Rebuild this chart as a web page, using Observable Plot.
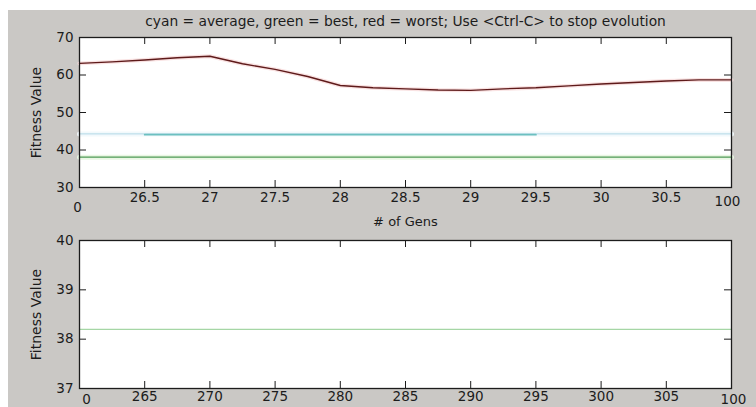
<!DOCTYPE html>
<html><head><meta charset="utf-8">
<script src="https://cdn.jsdelivr.net/npm/d3@7"></script>
<script src="https://cdn.jsdelivr.net/npm/@observablehq/plot@0.6"></script>
<style>
html,body{margin:0;padding:0;background:#fff;width:756px;height:407px;overflow:hidden;}
#bg{position:absolute;left:8px;top:10px;width:748px;height:397px;background:#cac8c5;}
#top{position:absolute;left:0;top:0;}
#bot{position:absolute;left:0;top:230px;}
</style></head><body>
<div id="bg"></div><div id="top"></div><div id="bot"></div>
<script>
// ---- data ----
const titleText = "cyan = average, green = best, red = worst; Use <Ctrl-C> to stop evolution";
const xLabelText = "# of Gens";
const yLabelText = "Fitness Value";

const topXDomain = [26, 31];
const topYDomain = [30, 70];
const topXTicks = [26.5, 27, 27.5, 28, 28.5, 29, 29.5, 30, 30.5];
const topYTicks = [30, 40, 50, 60, 70];
const topEdgeLabels = ["0", "100"];

const worstX = [26, 26.25, 26.5, 26.75, 27, 27.25, 27.5, 27.75, 28, 28.25, 28.5, 28.75, 29, 29.25, 29.5, 29.75, 30, 30.25, 30.5, 30.75, 31];
const worstY = [63.1, 63.5, 64.0, 64.6, 65.0, 63.0, 61.5, 59.6, 57.2, 56.6, 56.3, 56.0, 55.9, 56.3, 56.6, 57.1, 57.6, 58.0, 58.4, 58.7, 58.7];

const avgX = [26, 31];
const avgY = [44.3, 44.3];
const avgHiX = [26.5, 29.5];
const avgHiY = [44.1, 44.1];

const bestX = [26, 31];
const bestY = [38.1, 38.1];

const botXDomain = [260, 310];
const botYDomain = [37, 40];
const botXTicks = [265, 270, 275, 280, 285, 290, 295, 300, 305];
const botYTicks = [37, 38, 39, 40];
const botEdgeLabels = ["0", "100"];
const botBestX = [260, 310];
const botBestY = [38.2, 38.2];

// ---- helpers ----
const font = "'DejaVu Sans', 'Liberation Sans', sans-serif";
const ink = "#1c1c1c";
const pts = (xs, ys) => xs.map((x, i) => ({x, y: ys[i]}));
const fmt = d => String(d);

function panel({xDomain, yDomain, xTicks, yTicks, edge, height, mt, mb, pad, lines, extra}) {
  const ml = 79, mr = 25, W = 756;
  const iw = W - ml - mr, ih = height - mt - mb, tl = 7;
  return Plot.plot({
    width: W, height, marginLeft: ml, marginRight: mr, marginTop: mt, marginBottom: mb,
    style: {background: "transparent", fontFamily: font, fontSize: "13px", color: ink, overflow: "visible"},
    x: {domain: xDomain, axis: null},
    y: {domain: yDomain, axis: null},
    marks: [
      Plot.frame({fill: "white"}),
      ...lines,
      // inward ticks on all four sides
      Plot.tickX(xTicks, {x: d => d, stroke: ink, insetBottom: ih - tl}),
      Plot.tickX(xTicks, {x: d => d, stroke: ink, insetTop: ih - tl}),
      Plot.tickY(yTicks, {y: d => d, stroke: ink, insetRight: iw - tl}),
      Plot.tickY(yTicks, {y: d => d, stroke: ink, insetLeft: iw - tl}),
      Plot.frame({stroke: ink, strokeWidth: 1.3}),
      Plot.axisX(xTicks, {anchor: "bottom", tickSize: 0, tickPadding: pad, fill: ink, fontSize: 13.5, tickFormat: fmt, label: null}),
      Plot.axisY(yTicks, {anchor: "left", tickSize: 0, tickPadding: 6, fill: ink, fontSize: 13.5, tickFormat: fmt, label: null}),
      Plot.text([edge[0]], {x: xDomain[0], frameAnchor: "bottom", lineAnchor: "middle", text: d => d, dy: edge.dy0, dx: edge.dx0, fontSize: 13.5, fill: ink}),
      Plot.text([edge[1]], {x: xDomain[1], frameAnchor: "bottom", lineAnchor: "middle", text: d => d, dy: edge.dy1, dx: edge.dx1, fontSize: 13.5, fill: ink}),
      Plot.text([yLabelText], {frameAnchor: "left", textAnchor: "middle", lineAnchor: "middle", text: d => d, rotate: -90, dx: -43, fontSize: 14, fill: ink}),
      ...extra
    ]
  });
}

const topEdge = Object.assign([...topEdgeLabels], {dy0: 20, dx0: -2, dy1: 14, dx1: -4});
const botEdge = Object.assign([...botEdgeLabels], {dy0: 11, dx0: 7, dy1: 11, dx1: 2});

const topPlot = panel({
  xDomain: topXDomain, yDomain: topYDomain, xTicks: topXTicks, yTicks: topYTicks,
  edge: topEdge, height: 230, mt: 37, mb: 43, pad: 5,
  lines: [
    Plot.line(pts(avgX, avgY), {x: "x", y: "y", stroke: "#f2f9fc", strokeWidth: 5}),
    Plot.line(pts(avgX, avgY), {x: "x", y: "y", stroke: "#b3d8e6", strokeWidth: 1}),
    Plot.line(pts(avgHiX, avgHiY), {x: "x", y: "y", stroke: "#6cc0c0", strokeWidth: 1.8}),
    Plot.line(pts(bestX, bestY), {x: "x", y: "y", stroke: "#eaf7e4", strokeWidth: 5}),
    Plot.line(pts(bestX, bestY), {x: "x", y: "y", stroke: "#4f9a55", strokeWidth: 1.4}),
    Plot.line(pts(worstX, worstY), {x: "x", y: "y", stroke: "#f9e2e2", strokeWidth: 4}),
    Plot.line(pts(worstX, worstY), {x: "x", y: "y", stroke: "#5e1a1a", strokeWidth: 1.3})
  ],
  extra: [
    Plot.text([titleText], {frameAnchor: "top", lineAnchor: "middle", text: d => d, dy: -16, fontSize: 13.8, fill: ink}),
    Plot.text([xLabelText], {frameAnchor: "bottom", lineAnchor: "middle", text: d => d, dy: 34, fontSize: 13, fill: ink})
  ]
});

const botPlot = panel({
  xDomain: botXDomain, yDomain: botYDomain, xTicks: botXTicks, yTicks: botYTicks,
  edge: botEdge, height: 177, mt: 10, mb: 19, pad: 3,
  lines: [
    Plot.line(pts(botBestX, botBestY), {x: "x", y: "y", stroke: "#a5d6a5", strokeWidth: 1.2})
  ],
  extra: []
});

document.getElementById("top").appendChild(topPlot);
document.getElementById("bot").appendChild(botPlot);
</script>
</body></html>
